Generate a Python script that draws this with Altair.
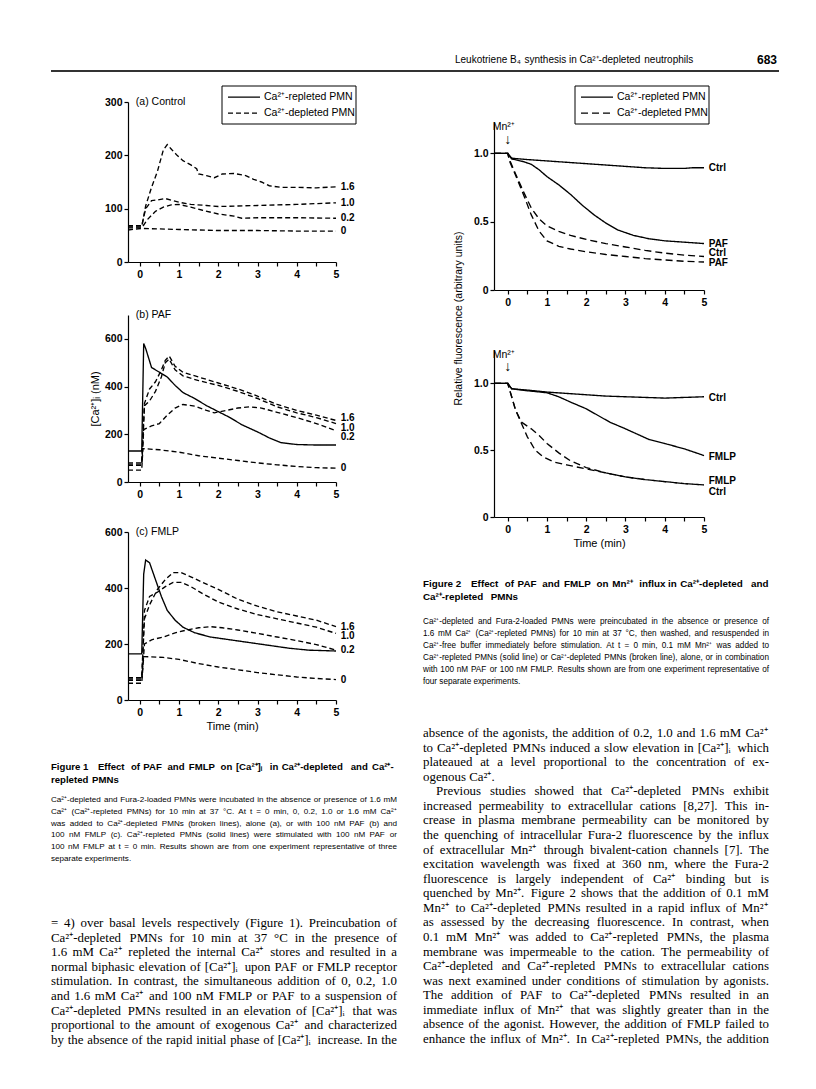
import altair as alt
import pandas as pd

REP = "Ca²⁺-repleted PMN"
DEP = "Ca²⁺-depleted PMN"

# ---------------- Figure 1(a) Control (Ca2+-depleted PMNs) ----------------
a_t_00 = [-0.3, 0.05, 0.5, 1.0, 2.0, 3.0, 4.0, 5.0]
a_v_00 = [60, 63, 62, 61, 59, 59, 58, 58]
a_t_02 = [-0.3, 0.05, 0.2, 0.4, 0.6, 0.8, 1.0, 1.3, 1.6, 2.0, 2.4, 2.6, 3.0, 4.0, 5.0]
a_v_02 = [64, 64, 80, 95, 103, 107, 108, 103, 97, 90, 86, 82, 83, 83, 82]
a_t_10 = [-0.3, 0.05, 0.15, 0.3, 0.5, 0.65, 0.8, 1.0, 1.3, 1.7, 2.0, 2.5, 3.0, 4.0, 5.0]
a_v_10 = [68, 68, 100, 115, 117, 119, 116, 112, 108, 106, 104, 105, 106, 108, 111]
a_t_16 = [-0.3, 0.05, 0.15, 0.3, 0.45, 0.6, 0.7, 0.8, 0.95, 1.1, 1.3, 1.45, 1.5, 1.7, 1.9,
          2.1, 2.4, 2.7, 2.9, 3.1, 3.3, 3.6, 4.0, 4.5, 5.0]
a_v_16 = [66, 66, 105, 140, 170, 210, 220, 212, 200, 190, 182, 175, 165, 162, 158,
          165, 166, 162, 155, 150, 143, 140, 140, 139, 141]
a_lab_txt = ["1.6", "1.0", "0.2", "0"]
a_lab_v = [140, 111, 83, 58]

# ---------------- Figure 1(b) PAF ----------------
b_t_rep = [-0.3, 0.05, 0.1, 0.15, 0.3, 0.5, 0.7, 0.9, 1.1, 1.4, 1.7, 2.0, 2.3, 2.6, 3.0, 3.3, 3.6, 4.0, 4.5, 5.0]
b_v_rep = [130, 130, 580, 560, 480, 460, 440, 405, 375, 350, 320, 295, 270, 240, 210, 185, 165, 157, 155, 155]
b_t_00 = [-0.3, 0.05, 0.08, 0.5, 1.0, 1.5, 2.0, 2.5, 3.0, 3.5, 4.0, 4.5, 5.0]
b_v_00 = [50, 50, 140, 135, 125, 110, 100, 90, 80, 72, 65, 60, 58]
b_t_02 = [-0.3, 0.05, 0.1, 0.3, 0.5, 0.7, 0.9, 1.1, 1.4, 1.7, 1.9, 2.2, 2.5, 2.8, 3.1, 3.5, 4.0, 4.5, 5.0]
b_v_02 = [70, 70, 220, 235, 245, 280, 310, 325, 318, 300, 290, 300, 310, 315, 310, 292, 270, 245, 215]
b_t_10 = [-0.3, 0.05, 0.12, 0.25, 0.4, 0.55, 0.65, 0.75, 0.9, 1.1, 1.5, 2.0, 2.5, 3.0, 3.5, 4.0, 4.5, 5.0]
b_v_10 = [75, 75, 320, 340, 380, 440, 500, 515, 470, 445, 425, 405, 380, 350, 315, 290, 270, 245]
b_t_16 = [-0.3, 0.05, 0.12, 0.25, 0.4, 0.55, 0.65, 0.75, 0.9, 1.1, 1.5, 2.0, 2.5, 3.0, 3.5, 4.0, 4.5, 5.0]
b_v_16 = [80, 80, 330, 390, 420, 470, 510, 528, 485, 460, 440, 415, 390, 360, 325, 300, 280, 258]
b_lab_txt = ["1.6", "1.0", "0.2", "0"]
b_lab_v = [268, 228, 188, 58]

# ---------------- Figure 1(c) FMLP ----------------
c_t_rep = [-0.3, 0.05, 0.1, 0.15, 0.25, 0.4, 0.55, 0.7, 0.9, 1.1, 1.4, 1.8, 2.3, 2.8, 3.3, 3.8, 4.3, 5.0]
c_v_rep = [165, 165, 450, 500, 490, 430, 370, 320, 285, 260, 240, 225, 215, 205, 195, 185, 178, 175]
c_t_00 = [-0.3, 0.05, 0.1, 0.6, 1.0, 1.5, 2.0, 2.5, 3.0, 3.5, 4.0, 4.5, 5.0]
c_v_00 = [60, 60, 155, 152, 145, 130, 118, 108, 98, 90, 82, 77, 73]
c_t_02 = [-0.3, 0.05, 0.12, 0.3, 0.6, 0.9, 1.2, 1.5, 1.8, 2.1, 2.5, 3.0, 3.5, 4.0, 4.5, 5.0]
c_v_02 = [70, 70, 200, 215, 225, 240, 250, 258, 262, 258, 250, 238, 225, 212, 198, 178]
c_t_10 = [-0.3, 0.05, 0.12, 0.25, 0.45, 0.65, 0.85, 1.05, 1.3, 1.6, 2.0, 2.5, 3.0, 3.5, 4.0, 4.5, 5.0]
c_v_10 = [75, 75, 320, 370, 385, 405, 420, 420, 405, 380, 350, 325, 305, 290, 275, 260, 238]
c_t_16 = [-0.3, 0.05, 0.12, 0.25, 0.45, 0.65, 0.85, 1.05, 1.3, 1.6, 2.0, 2.5, 3.0, 3.5, 4.0, 4.5, 5.0]
c_v_16 = [80, 80, 290, 340, 395, 430, 455, 455, 440, 420, 395, 360, 335, 315, 300, 285, 262]
c_lab_txt = ["1.6", "1.0", "0.2", "0"]
c_lab_v = [262, 228, 180, 72]

# ---------------- Figure 2 top (PAF) ----------------
p_t_rc = [-0.35, 0.0, 0.1, 0.5, 1.0, 1.5, 2.0, 2.5, 3.0, 3.5, 4.0, 4.5, 4.7, 5.0]
p_v_rc = [1.0, 1.0, 0.965, 0.955, 0.945, 0.935, 0.925, 0.915, 0.905, 0.895, 0.89, 0.89, 0.895, 0.895]
p_t_rp = [-0.35, 0.0, 0.1, 0.4, 0.6, 0.8, 1.0, 1.3, 1.6, 1.9, 2.2, 2.5, 2.8, 3.2, 3.6, 4.0, 4.5, 5.0]
p_v_rp = [1.0, 1.0, 0.96, 0.94, 0.92, 0.88, 0.83, 0.77, 0.70, 0.62, 0.55, 0.49, 0.44, 0.40, 0.375, 0.36, 0.35, 0.34]
p_t_dc = [-0.35, 0.0, 0.05, 0.2, 0.4, 0.6, 0.8, 1.0, 1.3, 1.6, 2.0, 2.5, 3.0, 3.5, 4.0, 4.5, 5.0]
p_v_dc = [1.0, 1.0, 0.95, 0.85, 0.72, 0.60, 0.52, 0.47, 0.43, 0.40, 0.37, 0.34, 0.315, 0.29, 0.27, 0.255, 0.245]
p_t_dp = [-0.35, 0.0, 0.05, 0.2, 0.4, 0.6, 0.8, 1.0, 1.3, 1.6, 2.0, 2.5, 3.0, 3.5, 4.0, 4.5, 5.0]
p_v_dp = [1.0, 1.0, 0.94, 0.84, 0.70, 0.55, 0.43, 0.36, 0.32, 0.30, 0.28, 0.26, 0.245, 0.23, 0.22, 0.21, 0.205]
p_lab_txt = ["Ctrl", "PAF", "Ctrl", "PAF"]
p_lab_v = [0.895, 0.34, 0.27, 0.20]

# ---------------- Figure 2 bottom (FMLP) ----------------
f_t_rc = [-0.35, 0.0, 0.1, 0.5, 1.0, 1.5, 2.0, 2.5, 3.0, 3.5, 4.0, 4.5, 5.0]
f_v_rc = [1.0, 1.0, 0.96, 0.95, 0.935, 0.925, 0.915, 0.905, 0.90, 0.895, 0.89, 0.895, 0.90]
f_t_rf = [-0.35, 0.0, 0.1, 0.5, 1.0, 1.3, 1.6, 2.0, 2.3, 2.6, 3.0, 3.3, 3.6, 4.0, 4.5, 5.0]
f_v_rf = [1.0, 1.0, 0.96, 0.945, 0.93, 0.90, 0.86, 0.81, 0.76, 0.71, 0.66, 0.62, 0.58, 0.55, 0.51, 0.46]
f_t_df = [-0.35, 0.0, 0.05, 0.2, 0.35, 0.6, 0.8, 1.0, 1.3, 1.6, 2.0, 2.5, 3.0, 3.5, 4.0, 4.5, 5.0]
f_v_df = [1.0, 1.0, 0.95, 0.80, 0.71, 0.66, 0.61, 0.55, 0.48, 0.42, 0.37, 0.33, 0.30, 0.28, 0.265, 0.25, 0.24]
f_t_dc = [-0.35, 0.0, 0.05, 0.2, 0.35, 0.5, 0.7, 0.9, 1.2, 1.5, 2.0, 2.5, 3.0, 3.5, 4.0, 4.5, 5.0]
f_v_dc = [1.0, 1.0, 0.95, 0.80, 0.70, 0.60, 0.50, 0.45, 0.41, 0.39, 0.36, 0.33, 0.30, 0.28, 0.265, 0.25, 0.24]
f_lab_txt = ["Ctrl", "FMLP", "FMLP", "Ctrl"]
f_lab_v = [0.89, 0.45, 0.27, 0.19]

# ---------------- texts ----------------
header_txt = ["Leukotriene B₄ synthesis in Ca²⁺-depleted neutrophils"]
page_no = ["683"]
legend_labels = [REP, DEP]

fig1_title = ["Figure\u00a01\u2003Effect of PAF and FMLP on [Ca²⁺]ᵢ in Ca²⁺-depleted and Ca²⁺-",
              "repleted PMNs"]
fig1_caption = [
    "Ca²⁺-depleted and Fura-2-loaded PMNs were incubated in the absence or presence of 1.6 mM",
    "Ca²⁺ (Ca²⁺-repleted PMNs) for 10 min at 37 °C. At t = 0 min, 0, 0.2, 1.0 or 1.6 mM Ca²⁺",
    "was added to Ca²⁺-depleted PMNs (broken lines), alone (a), or with 100 nM PAF (b) and",
    "100 nM FMLP (c). Ca²⁺-repleted PMNs (solid lines) were stimulated with 100 nM PAF or",
    "100 nM FMLP at t = 0 min. Results shown are from one experiment representative of three",
    "separate experiments.",
]
fig2_title = ["Figure\u00a02\u2003Effect of PAF and FMLP on Mn²⁺ influx in Ca²⁺-depleted and",
              "Ca²⁺-repleted PMNs"]
fig2_caption = [
    "Ca²⁺-depleted and Fura-2-loaded PMNs were preincubated in the absence or presence of",
    "1.6 mM Ca²⁺ (Ca²⁺-repleted PMNs) for 10 min at 37 °C, then washed, and resuspended in",
    "Ca²⁺-free buffer immediately before stimulation. At t = 0 min, 0.1 mM Mn²⁺ was added to",
    "Ca²⁺-repleted PMNs (solid line) or Ca²⁺-depleted PMNs (broken line), alone, or in combination",
    "with 100 nM PAF or 100 nM FMLP. Results shown are from one experiment representative of",
    "four separate experiments.",
]
left_body = [
    "= 4) over basal levels respectively (Figure 1). Preincubation of",
    "Ca²⁺-depleted PMNs for 10 min at 37 °C in the presence of",
    "1.6 mM Ca²⁺ repleted the internal Ca²⁺ stores and resulted in a",
    "normal biphasic elevation of [Ca²⁺]ᵢ upon PAF or FMLP receptor",
    "stimulation. In contrast, the simultaneous addition of 0, 0.2, 1.0",
    "and 1.6 mM Ca²⁺ and 100 nM FMLP or PAF to a suspension of",
    "Ca²⁺-depleted PMNs resulted in an elevation of [Ca²⁺]ᵢ that was",
    "proportional to the amount of exogenous Ca²⁺ and characterized",
    "by the absence of the rapid initial phase of [Ca²⁺]ᵢ increase. In the",
]
right_body = [
    "absence of the agonists, the addition of 0.2, 1.0 and 1.6 mM Ca²⁺",
    "to Ca²⁺-depleted PMNs induced a slow elevation in [Ca²⁺]ᵢ which",
    "plateaued at a level proportional to the concentration of ex-",
    "ogenous Ca²⁺.",
    "Previous studies showed that Ca²⁺-depleted PMNs exhibit",
    "increased permeability to extracellular cations [8,27]. This in-",
    "crease in plasma membrane permeability can be monitored by",
    "the quenching of intracellular Fura-2 fluorescence by the influx",
    "of extracellular Mn²⁺ through bivalent-cation channels [7]. The",
    "excitation wavelength was fixed at 360 nm, where the Fura-2",
    "fluorescence is largely independent of Ca²⁺ binding but is",
    "quenched by Mn²⁺. Figure 2 shows that the addition of 0.1 mM",
    "Mn²⁺ to Ca²⁺-depleted PMNs resulted in a rapid influx of Mn²⁺",
    "as assessed by the decreasing fluorescence. In contrast, when",
    "0.1 mM Mn²⁺ was added to Ca²⁺-repleted PMNs, the plasma",
    "membrane was impermeable to the cation. The permeability of",
    "Ca²⁺-depleted and Ca²⁺-repleted PMNs to extracellular cations",
    "was next examined under conditions of stimulation by agonists.",
    "The addition of PAF to Ca²⁺-depleted PMNs resulted in an",
    "immediate influx of Mn²⁺ that was slightly greater than in the",
    "absence of the agonist. However, the addition of FMLP failed to",
    "enhance the influx of Mn²⁺. In Ca²⁺-repleted PMNs, the addition",
]

# ---------------- layout helpers ----------------
W, H = 800, 1073
M = 8
FONT = "Liberation Sans, Arial, Helvetica, sans-serif"
SERIF = "Liberation Serif, Times New Roman, serif"
ONE = pd.DataFrame({'k': [0]})


def cx(p):
    return p - M


def cy(p):
    return p - M


TIMES = {' ': 250, '.': 250, ',': 250, '-': 333, '(': 333, ')': 333, '[': 333, ']': 333,
         ':': 278, ';': 278, '=': 564, '°': 400, '²': 300, '⁺': 420, 'ᵢ': 280,
         '\u2003': 1000, '\u00a0': 250}
ARIAL = {' ': 278, '.': 278, ',': 278, '-': 333, '(': 333, ')': 333, '[': 278, ']': 278,
         ':': 278, ';': 278, '=': 584, '°': 400, '²': 333, '⁺': 420, 'ᵢ': 280,
         '\u2003': 1000, '\u00a0': 278}
for ch in '0123456789':
    TIMES[ch] = 500
    ARIAL[ch] = 556
TIMES.update(zip('abcdefghijklmnopqrstuvwxyz',
                 [444, 500, 444, 500, 444, 333, 500, 500, 278, 278, 500, 278, 778, 500, 500, 500,
                  500, 333, 389, 278, 500, 500, 722, 500, 500, 444]))
TIMES.update(zip('ABCDEFGHIJKLMNOPQRSTUVWXYZ',
                 [722, 667, 667, 722, 611, 556, 722, 722, 333, 389, 722, 611, 889, 722, 722, 556,
                  722, 667, 556, 611, 722, 722, 944, 722, 722, 611]))
ARIAL.update(zip('abcdefghijklmnopqrstuvwxyz',
                 [556, 556, 500, 556, 556, 278, 556, 556, 222, 222, 500, 222, 833, 556, 556, 556,
                  556, 333, 500, 278, 556, 500, 722, 500, 500, 500]))
ARIAL.update(zip('ABCDEFGHIJKLMNOPQRSTUVWXYZ',
                 [667, 667, 722, 722, 667, 611, 778, 722, 278, 500, 667, 556, 833, 722, 778, 667,
                  778, 722, 667, 611, 722, 667, 944, 667, 667, 611]))


def em_width(s, table, factor):
    return sum(table.get(ch, 500) for ch in s) / 1000.0 * factor


def text_block(lines, x0, width, y_first, spacing, font, size, table, factor=1.0,
               weight='normal', justify=None, indent=None, autofit=True):
    n = len(lines)
    justify = justify if justify is not None else [True] * n
    indent = indent if indent is not None else [0] * n
    if autofit:
        for i, line in enumerate(lines):
            if justify[i]:
                need = em_width(line, table, factor) * 1.02
                size = min(size, (width - indent[i]) / need)
    rows = []
    for i, line in enumerate(lines):
        words = line.split(' ')
        ws = [em_width(w, table, factor) * size for w in words]
        space = table[' '] / 1000.0 * factor * size
        avail = width - indent[i]
        gap = space
        if justify[i] and len(words) > 1:
            gap = max((avail - sum(ws)) / (len(words) - 1), space * 0.6)
        pos = indent[i]
        for w, wd in zip(words, ws):
            rows.append({'line': i, 'pos': pos, 'word': w})
            pos += wd + gap
    df = pd.DataFrame(rows)
    if n > 1:
        ydom, yrng = [0, n - 1], [cy(y_first), cy(y_first + spacing * (n - 1))]
    else:
        ydom, yrng = [0, 1], [cy(y_first), cy(y_first + spacing)]
    return alt.Chart(df).mark_text(align='left', baseline='middle', font=font, fontSize=size,
                                   fontWeight=weight, color='black').encode(
        x=alt.X('pos:Q', scale=alt.Scale(domain=[0, width], range=[cx(x0), cx(x0 + width)]), axis=None),
        y=alt.Y('line:Q', scale=alt.Scale(domain=ydom, range=yrng), axis=None),
        text='word:N')


AX = dict(grid=False, domainColor='black', tickColor='black', domainWidth=1.2, tickWidth=1.2,
          tickSize=4, labelFont=FONT, labelFontSize=10.5, labelFontWeight='bold', labelColor='black',
          titleFont=FONT, titleFontWeight='normal', titleColor='black', titleFontSize=11,
          labelOverlap=False, labelFlush=False)


def panel(series, xpx, ypx, xdom, ydom, yvals, yexpr, lab_txt, lab_v, lab_x, dash,
          title_txt=None, title_v=None, mn=False, ytitle=None, ytitle_kw=None, xtitle=None):
    rows = []
    for sid, kind, ts, vs in series:
        for t, v in zip(ts, vs):
            rows.append({'s': sid, 'kind': kind, 't': t, 'v': v})
    df = pd.DataFrame(rows)

    def xs():
        return alt.Scale(domain=list(xdom), range=[cx(xpx[0]), cx(xpx[1])], nice=False, zero=False)

    def ys():
        return alt.Scale(domain=list(ydom), range=[cy(ypx[0]), cy(ypx[1])], nice=False, zero=False)

    xkw = dict(AX)
    xkw.update(orient='bottom', offset=cy(ypx[0]) - H, values=[i * 0.5 for i in range(11)],
               labelExpr="datum.value % 1 == 0 ? format(datum.value, 'd') : ''", labelPadding=3)
    if xtitle:
        xkw.update(title=xtitle, titlePadding=3)
    ykw = dict(AX)
    ykw.update(orient='left', offset=-cx(xpx[0]), values=yvals, labelExpr=yexpr, labelPadding=2)
    if ytitle:
        ykw.update(title=ytitle)
        ykw.update(ytitle_kw or {})
    x_enc = alt.X('t:Q', scale=xs(), axis=alt.Axis(**xkw)) if xtitle else \
        alt.X('t:Q', scale=xs(), axis=alt.Axis(**xkw), title=None)
    y_enc = alt.Y('v:Q', scale=ys(), axis=alt.Axis(**ykw)) if ytitle else \
        alt.Y('v:Q', scale=ys(), axis=alt.Axis(**ykw), title=None)
    sd = alt.StrokeDash('kind:N', scale=alt.Scale(domain=[REP, DEP], range=[[1, 0], dash]),
                        legend=None)
    out = [alt.Chart(df).mark_line(color='black', strokeWidth=1.35).encode(
        x=x_enc, y=y_enc, detail='s:N', strokeDash=sd)]

    def txt(d, align, size, weight='normal'):
        return alt.Chart(pd.DataFrame(d)).mark_text(
            align=align, baseline='middle', font=FONT, fontSize=size, fontWeight=weight,
            color='black').encode(
            x=alt.X('t:Q', scale=xs(), axis=None), y=alt.Y('v:Q', scale=ys(), axis=None),
            text='txt:N')

    out.append(txt({'t': [lab_x] * len(lab_txt), 'v': lab_v, 'txt': lab_txt}, 'left', 10, 'bold'))
    if title_txt:
        out.append(txt({'t': [xdom[0] + 0.2], 'v': [title_v], 'txt': [title_txt]}, 'left', 10.5))
    if mn:
        out.append(txt({'t': [-0.1], 'v': [ydom[1] - 0.04], 'txt': ['Mn²⁺']}, 'center', 10.5))
        out.append(txt({'t': [0.0], 'v': [ydom[1] - 0.13], 'txt': ['↓']}, 'center', 14, 'bold'))
    return out


def legend_box(x0, y0, dash):
    w, h = 134, 38
    out = [alt.Chart(ONE).mark_rect(fill='white', stroke='black', strokeWidth=1).encode(
        x=alt.value(cx(x0)), x2=alt.value(cx(x0 + w)), y=alt.value(cy(y0)), y2=alt.value(cy(y0 + h)))]
    for i, (lab, d) in enumerate(zip(legend_labels, [[1, 0], dash])):
        yy = y0 + 11 + 16 * i
        out.append(alt.Chart(ONE).mark_rule(color='black', strokeWidth=1.25, strokeDash=d).encode(
            x=alt.value(cx(x0 + 6)), x2=alt.value(cx(x0 + 38)), y=alt.value(cy(yy))))
        out.append(alt.Chart(pd.DataFrame({'txt': [lab]})).mark_text(
            align='left', baseline='middle', font=FONT, fontSize=10.5, color='black').encode(
            x=alt.value(cx(x0 + 42)), y=alt.value(cy(yy)), text='txt:N'))
    return out


F1X, F1XD = (128, 336), (-0.3, 5)
F2X, F2XD = (494, 704), (-0.35, 5)
Y1EXPR = "format(datum.value, 'd')"
Y2EXPR = "datum.value == 0 ? '0' : format(datum.value, '.1f')"
D1 = [5, 3]
D2 = [7, 4]

layers = []
layers.append(alt.Chart(ONE).mark_rule(color='#333333', strokeWidth=2.2).encode(
    x=alt.value(cx(51)), x2=alt.value(cx(779)), y=alt.value(cy(71))))
layers.append(text_block(header_txt, 455, 255, 60, 12, FONT, 10, ARIAL,
                         justify=[False], autofit=False))
layers.append(text_block(page_no, 757, 22, 60, 12, FONT, 12, ARIAL, factor=1.1, weight='bold',
                         justify=[False], autofit=False))

layers += panel([('0', DEP, a_t_00, a_v_00), ('0.2', DEP, a_t_02, a_v_02),
                 ('1.0', DEP, a_t_10, a_v_10), ('1.6', DEP, a_t_16, a_v_16)],
                F1X, (262, 102), F1XD, (0, 300), [0, 100, 200, 300], Y1EXPR,
                a_lab_txt, a_lab_v, 5.12, D1, title_txt="(a)   Control", title_v=300)
layers += panel([('rep', REP, b_t_rep, b_v_rep), ('0', DEP, b_t_00, b_v_00), ('0.2', DEP, b_t_02, b_v_02),
                 ('1.0', DEP, b_t_10, b_v_10), ('1.6', DEP, b_t_16, b_v_16)],
                F1X, (482, 315), F1XD, (0, 700), [0, 200, 400, 600], Y1EXPR,
                b_lab_txt, b_lab_v, 5.12, D1, title_txt="(b)   PAF", title_v=700,
                ytitle="[Ca²⁺]ᵢ (nM)", ytitle_kw=dict(titlePadding=4))
layers += panel([('rep', REP, c_t_rep, c_v_rep), ('0', DEP, c_t_00, c_v_00), ('0.2', DEP, c_t_02, c_v_02),
                 ('1.0', DEP, c_t_10, c_v_10), ('1.6', DEP, c_t_16, c_v_16)],
                F1X, (700, 532), F1XD, (0, 600), [0, 200, 400, 600], Y1EXPR,
                c_lab_txt, c_lab_v, 5.12, D1, title_txt="(c)   FMLP", title_v=600,
                xtitle="Time (min)")
layers += panel([('rc', REP, p_t_rc, p_v_rc), ('rp', REP, p_t_rp, p_v_rp),
                 ('dc', DEP, p_t_dc, p_v_dc), ('dp', DEP, p_t_dp, p_v_dp)],
                F2X, (290, 122), F2XD, (0, 1.23), [0, 0.5, 1.0], Y2EXPR,
                p_lab_txt, p_lab_v, 5.12, D2, mn=True,
                ytitle="Relative fluorescence (arbitrary units)",
                ytitle_kw=dict(titleX=-36, titleY=cy(318), titleAngle=270, titleAlign='center',
                               titleBaseline='middle', titleFontSize=10.5))
layers += panel([('rc', REP, f_t_rc, f_v_rc), ('rf', REP, f_t_rf, f_v_rf),
                 ('df', DEP, f_t_df, f_v_df), ('dc', DEP, f_t_dc, f_v_dc)],
                F2X, (517, 350), F2XD, (0, 1.25), [0, 0.5, 1.0], Y2EXPR,
                f_lab_txt, f_lab_v, 5.12, D2, mn=True, xtitle="Time (min)")
layers += legend_box(222, 86, D1)
layers += legend_box(575, 86, D2)

layers.append(text_block(fig1_title, 51, 346, 767, 12.5, FONT, 11, ARIAL, factor=1.1,
                         weight='bold', justify=[True, False]))
layers.append(text_block(fig1_caption, 51, 346, 800, 11.8, FONT, 9, ARIAL,
                         justify=[True] * 5 + [False]))
layers.append(text_block(fig2_title, 423, 346, 584, 12.5, FONT, 11, ARIAL, factor=1.1,
                         weight='bold', justify=[True, False]))
layers.append(text_block(fig2_caption, 423, 346, 622, 12.0, FONT, 9, ARIAL,
                         justify=[True] * 5 + [False]))
layers.append(text_block(left_body, 51, 346, 923, 14.6, SERIF, 13, TIMES))
rj = [True] * len(right_body)
rj[3] = False
ri = [0] * len(right_body)
ri[4] = 13
layers.append(text_block(right_body, 423, 346, 733, 14.57, SERIF, 13, TIMES, justify=rj, indent=ri))

chart = alt.layer(*layers).resolve_scale(
    x='independent', y='independent', strokeDash='independent').resolve_axis(
    x='independent', y='independent').properties(
    width=W, height=H, autosize=alt.AutoSizeParams(type='none'), padding=0, background='white'
).configure_view(stroke=None)

chart.save("out.html", embed_options={"renderer": "svg", "actions": False})
